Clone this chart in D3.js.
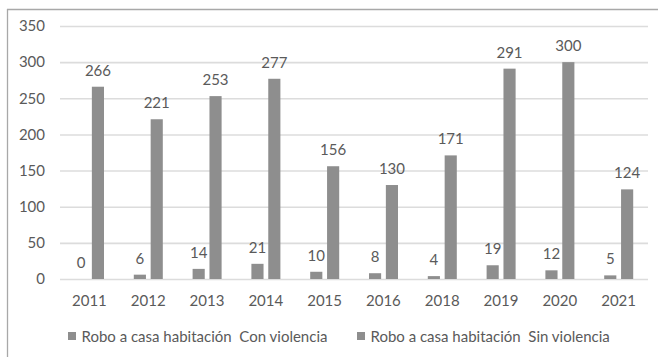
<!DOCTYPE html>
<html>
<head>
<meta charset="utf-8">
<script src="https://cdn.jsdelivr.net/npm/d3@7"></script>
<style>
  html, body { margin: 0; padding: 0; background: #fff; }
  svg { display: block; }
  text { font-family: Lato, "Open Sans", sans-serif; fill: #5a5a5a; }
</style>
</head>
<body>
<svg id="chart" width="658" height="357"></svg>
<script>
// Robo a casa habitación por año
const years = ["2011", "2012", "2013", "2014", "2015", "2016", "2018", "2019", "2020", "2021"];
const seriesNames = ["Robo a casa habitación  Con violencia", "Robo a casa habitación  Sin violencia"];
const conViolencia = [0, 6, 14, 21, 10, 8, 4, 19, 12, 5];
const sinViolencia = [266, 221, 253, 277, 156, 130, 171, 291, 300, 124];
const yTicks = [0, 50, 100, 150, 200, 250, 300, 350];

const seriesValues = [conViolencia, sinViolencia];
const barColor = "#8e8e8e";

const svg = d3.select("#chart");
const plot = { left: 60, right: 648, top: 26, bottom: 279 };

// Outer frame: top and left edges
svg.append("line").attr("x1", 7).attr("x2", 658).attr("y1", 9.5).attr("y2", 9.5)
  .attr("stroke", "#a8a8a8").attr("stroke-width", 1.3);
svg.append("line").attr("x1", 7.5).attr("x2", 7.5).attr("y1", 9).attr("y2", 357)
  .attr("stroke", "#a8a8a8").attr("stroke-width", 1.3);

const y = d3.scaleLinear().domain([0, 350]).range([plot.bottom, plot.top]);
const x0 = d3.scaleBand().domain(years).range([plot.left, plot.right]).padding(0);
const x1 = d3.scaleBand().domain(d3.range(seriesNames.length))
  .range([15, 44]).paddingInner(0.28).paddingOuter(0);

// Gridlines
const yAxis = d3.axisLeft(y).tickValues(yTicks).tickSize(-(plot.right - plot.left)).tickPadding(15);
const gy = svg.append("g").attr("transform", `translate(${plot.left},0)`).call(yAxis);
gy.select(".domain").remove();
gy.selectAll(".tick line").attr("stroke", "#dcdcdc").attr("stroke-width", 1.6);
gy.selectAll(".tick text").style("font-size", "15px").attr("fill", "#5a5a5a");

// Category axis labels
const xAxis = d3.axisBottom(x0).tickSize(0).tickPadding(16);
const gx = svg.append("g").attr("transform", `translate(0,${plot.bottom})`).call(xAxis);
gx.select(".domain").remove();
gx.selectAll(".tick text").style("font-size", "15px").attr("fill", "#5a5a5a");

// Bars and value labels
const groups = svg.append("g").selectAll("g").data(years).join("g")
  .attr("transform", d => `translate(${x0(d)},0)`);

seriesValues.forEach((vals, s) => {
  groups.append("rect")
    .attr("x", x1(s))
    .attr("width", x1.bandwidth())
    .attr("y", (d, i) => y(vals[i]))
    .attr("height", (d, i) => plot.bottom - y(vals[i]))
    .attr("fill", barColor);
  groups.append("text")
    .attr("x", x1(s) + x1.bandwidth() / 2)
    .attr("y", (d, i) => y(vals[i]) - 11)
    .attr("text-anchor", "middle")
    .style("font-size", "15px")
    .text((d, i) => vals[i]);
});

// Legend
const legendX = [68, 357];
const legend = svg.append("g");
seriesNames.forEach((name, s) => {
  legend.append("rect").attr("x", legendX[s]).attr("y", 332).attr("width", 8).attr("height", 8)
    .attr("fill", barColor);
  legend.append("text").attr("x", legendX[s] + 13.5).attr("y", 341.5)
    .style("font-size", "15px").style("white-space", "pre").attr("xml:space", "preserve")
    .text(name);
});
</script>
</body>
</html>
